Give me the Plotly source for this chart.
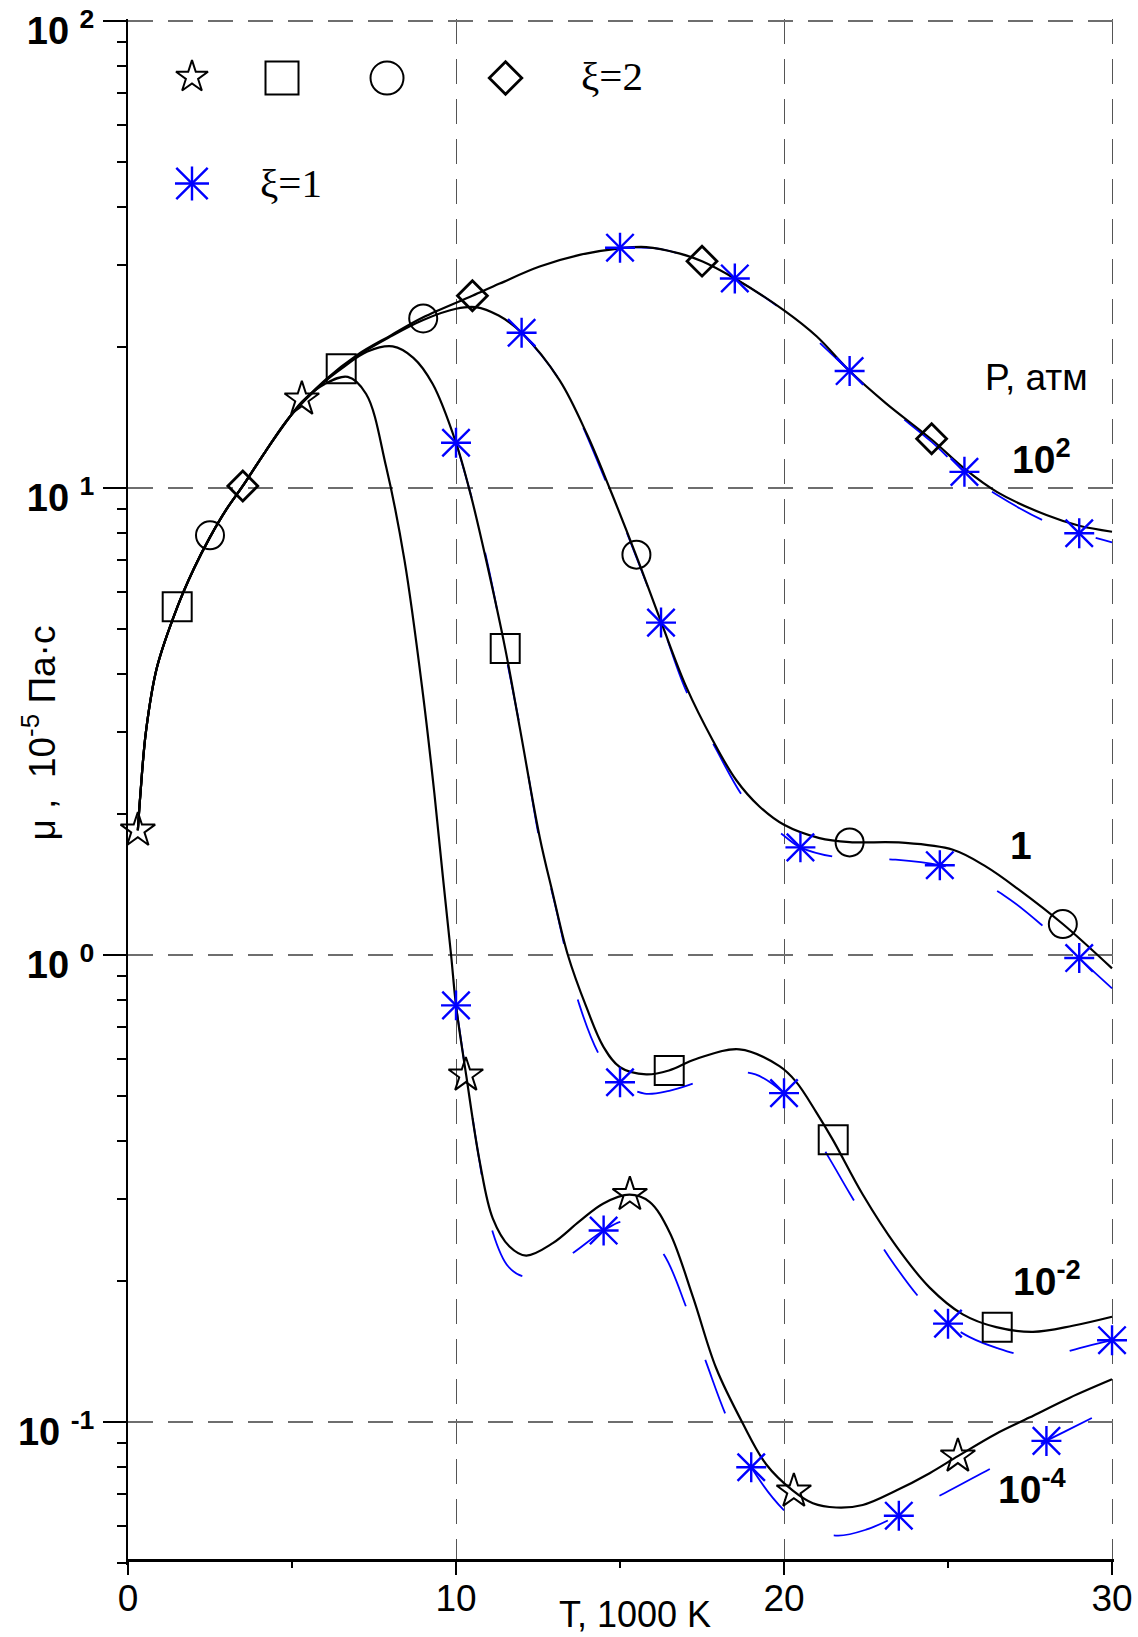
import plotly.graph_objects as go

# ---------------- data (T in 1000 K, mu in 1e-5 Pa*s) ----------------
# black solid curves, xi = 2
T_P100 = [0.3, 0.38, 0.55, 0.88, 1.5, 2.0, 2.5, 3.0, 3.5, 4.2, 5.0, 6.0, 7.0, 8.0, 9.0, 10.5, 11.33, 12.55,
          13.8, 15.0, 15.8, 16.8, 17.5, 18.5, 20.0, 21.0, 22.0, 23.1, 24.5, 25.5, 26.5, 28.0, 29.0, 30.0]
MU_P100 = [1.85, 2.22, 3.02, 4.12, 5.55, 6.7, 7.85, 9.0, 10.1, 12.0, 14.4, 17.0, 19.3, 21.2, 23.2, 25.8, 27.4, 29.8,
           31.6, 32.6, 32.8, 31.8, 30.6, 28.1, 24.0, 21.1, 17.8, 15.2, 12.7, 11.0, 9.8, 8.75, 8.3, 8.06]

T_P1 = [0.3, 0.38, 0.55, 0.88, 1.5, 2.0, 2.5, 3.0, 3.5, 4.2, 5.0, 6.0, 7.0, 8.0, 9.0, 10.0, 10.6, 11.3, 12.0,
        13.16, 14.0, 14.68, 15.5, 16.26, 17.02, 17.83, 18.54, 19.25, 20.0, 21.08, 22.0, 23.6, 25.15, 26.16,
        27.18, 28.5, 30.0]
MU_P1 = [1.85, 2.22, 3.02, 4.12, 5.55, 6.7, 7.85, 9.0, 10.1, 12.0, 14.4, 16.95, 19.2, 21.1, 22.9, 24.2, 24.4, 23.4,
         21.5, 17.0, 13.0, 10.0, 7.15, 5.15, 3.75, 2.88, 2.37, 2.08, 1.90, 1.78, 1.745, 1.74, 1.68, 1.546,
         1.377, 1.165, 0.936]

T_P1E2 = [0.3, 0.38, 0.55, 0.88, 1.5, 2.0, 2.5, 3.0, 3.5, 4.2, 5.0, 6.0, 6.5, 7.3, 8.07, 8.7, 9.29, 10.0, 10.46,
          10.92, 11.5, 11.94, 12.55, 12.95, 13.41, 13.97, 14.5, 15.0, 15.8, 16.49, 17.32, 18.64, 19.86, 20.37,
          20.98, 21.49, 22.4, 23.42, 24.44, 25.45, 26.47, 27.59, 28.8, 30.0]
MU_P1E2 = [1.85, 2.22, 3.02, 4.12, 5.55, 6.7, 7.85, 9.0, 10.1, 12.0, 14.4, 16.9, 18.0, 19.6, 20.1, 19.0, 16.7, 12.5,
           9.6, 7.0, 4.53, 3.08, 1.79, 1.355, 1.0, 0.775, 0.635, 0.575, 0.555, 0.566, 0.599, 0.628, 0.578, 0.535,
           0.461, 0.402, 0.307, 0.238, 0.194, 0.170, 0.1596, 0.156, 0.1607, 0.168]

T_P1E4 = [0.3, 0.38, 0.55, 0.88, 1.5, 2.0, 2.5, 3.0, 3.5, 4.2, 5.0, 5.3, 6.0, 6.7, 7.26, 7.87, 8.43, 8.99, 9.34,
          9.6, 9.85, 10.0, 10.31, 10.72, 11.12, 11.63, 12.14, 12.95, 13.76, 14.48, 15.29, 15.9, 16.51, 17.22,
          17.93, 18.74, 19.46, 20.27, 20.88, 21.59, 22.4, 23.42, 24.44, 25.3, 26.47, 27.48, 28.7, 30.0]
MU_P1E4 = [1.85, 2.22, 3.02, 4.12, 5.55, 6.7, 7.85, 9.0, 10.1, 12.0, 14.4, 15.3, 16.7, 17.3, 15.9, 11.1, 7.0, 3.63,
           2.22, 1.47, 1.0, 0.78, 0.553, 0.362, 0.273, 0.2376, 0.2272, 0.2415, 0.2688, 0.2934, 0.3067, 0.296,
           0.255, 0.1856, 0.1305, 0.0994, 0.0811, 0.0713, 0.067, 0.0656, 0.0664, 0.0713, 0.0777, 0.0845,
           0.0944, 0.1022, 0.1126, 0.1234]

# blue dashed curves, xi = 1
TB_P100 = [15.0, 16.2, 17.5, 18.5, 20.0, 22.0, 23.1, 24.5, 25.5, 26.5, 28.0, 29.0, 30.0]
MUB_P100 = [32.7, 32.5, 30.5, 28.1, 23.9, 17.8, 15.1, 12.55, 10.8, 9.66, 8.46, 8.0, 7.65]

TB_P1 = [12.0, 13.16, 14.68, 15.5, 16.26, 17.0, 17.94, 18.8, 19.5, 20.0, 20.5, 21.6, 23.4, 24.75, 25.15,
         26.72, 28.04, 29.0, 30.0]
MUB_P1 = [21.5, 17.0, 9.9, 7.1, 5.15, 3.7, 2.75, 2.16, 1.92, 1.80, 1.70, 1.62, 1.60, 1.557, 1.53,
          1.34, 1.13, 0.983, 0.848]

TB_P1E2 = [10.0, 10.5, 11.0, 11.5, 12.0, 12.55, 13.0, 13.77, 14.43, 15.0, 15.75, 16.5, 17.42, 18.3, 19.13, 20.0,
           20.45, 21.39, 22.0, 23.2, 24.28, 25.0, 25.66, 26.5, 27.33, 28.2, 29.01, 30.0]
MUB_P1E2 = [12.5, 9.4, 6.7, 4.45, 2.95, 1.76, 1.3, 0.779, 0.60, 0.534, 0.505, 0.512, 0.536, 0.56, 0.555, 0.506,
            0.468, 0.366, 0.309, 0.2257, 0.1795, 0.1624, 0.152, 0.144, 0.139, 0.139, 0.144, 0.1497]

TB_P1E4 = [10.0, 10.31, 10.72, 11.12, 11.6, 12.11, 12.8, 13.61, 14.5, 15.1, 15.6, 16.36, 17.02, 17.63, 18.24,
           19.0, 20.07, 20.8, 21.64, 22.5, 23.47, 24.89, 26.42, 27.99, 29.57, 30.0]
MUB_P1E4 = [0.78, 0.553, 0.36, 0.255, 0.215, 0.2046, 0.212, 0.2313, 0.257, 0.269, 0.262, 0.227, 0.176, 0.134,
            0.103, 0.08, 0.064, 0.059, 0.0571, 0.0588, 0.063, 0.0704, 0.0803, 0.0911, 0.1035, 0.107]

# point markers, xi = 2 (black open symbols)
STAR_T = [0.3, 5.3, 10.3, 15.3, 20.3, 25.3]
STAR_MU = [1.85, 15.5, 0.553, 0.307, 0.0711, 0.0845]
SQUARE_T = [1.5, 6.5, 11.5, 16.5, 21.5, 26.5]
SQUARE_MU = [5.57, 18.0, 4.53, 0.566, 0.402, 0.1596]
CIRCLE_T = [2.5, 9.0, 15.5, 22.0, 28.5]
CIRCLE_MU = [7.92, 23.07, 7.2, 1.742, 1.165]
DIAMOND_T = [3.5, 10.5, 17.5, 24.5]
DIAMOND_MU = [10.1, 25.8, 30.6, 12.75]

# point markers, xi = 1 (blue asterisks)
AST_T = [15.0, 18.5, 22.0, 25.5, 29.0,
         12.0, 16.25, 20.5, 24.75, 29.0,
         10.0, 15.0, 20.0, 25.0, 30.0,
         10.0, 14.5, 19.0, 23.5, 28.0]
AST_MU = [32.7, 28.1, 17.8, 10.83, 8.0,
          21.5, 5.15, 1.70, 1.557, 0.985,
          12.5, 0.534, 0.506, 0.1624, 0.1497,
          0.78, 0.257, 0.08, 0.063, 0.0911]

X_TICKS = [0, 10, 20, 30]
X_MINOR = [5, 15, 25]
Y_TICKS = [0.1, 1, 10, 100]
Y_TICKTEXT = ["<b>10\u00a0<sup>-1</sup></b>", "<b>10\u00a0<sup>0</sup></b>",
              "<b>10\u00a0<sup>1</sup></b>", "<b>10\u00a0<sup>2</sup></b>"]
Y_MINOR = [0.05, 0.06, 0.07, 0.08, 0.09, 0.2, 0.3, 0.4, 0.5, 0.6, 0.7, 0.8, 0.9,
           2, 3, 4, 5, 6, 7, 8, 9, 20, 30, 40, 50, 60, 70, 80, 90]

CURVE_LABELS = ["<b>10<sup>2</sup></b>", "<b>1</b>", "<b>10<sup>-2</sup></b>", "<b>10<sup>-4</sup></b>"]

# ---------------- styling / layout ----------------
SANS = "Arial, 'Liberation Sans', sans-serif"
SERIF = "'Times New Roman', 'Liberation Serif', serif"
BLUE = "#0000ff"
W, H = 1138, 1637
ML, MR, MT, MB = 128, 24, 19, 72
Y_BOTTOM_LOG = -1.3062
Y_TOP_LOG = 2.00428
X_AXIS_POS = 0.0035

fig = go.Figure()

for tx, my in [(TB_P100, MUB_P100), (TB_P1, MUB_P1), (TB_P1E2, MUB_P1E2), (TB_P1E4, MUB_P1E4)]:
    fig.add_trace(go.Scatter(x=tx, y=my, mode="lines",
                             line=dict(color=BLUE, width=1.8, dash="57px,57px", shape="spline", smoothing=1.0),
                             hoverinfo="skip", showlegend=False))

for tx, my in [(T_P100, MU_P100), (T_P1, MU_P1), (T_P1E2, MU_P1E2), (T_P1E4, MU_P1E4)]:
    fig.add_trace(go.Scatter(x=tx, y=my, mode="lines",
                             line=dict(color="black", width=2.2, shape="spline", smoothing=1.0),
                             hoverinfo="skip", showlegend=False))


def black_markers(tx, my, symbol, size, lw, xaxis="x", yaxis="y"):
    fig.add_trace(go.Scatter(x=tx, y=my, mode="markers", xaxis=xaxis, yaxis=yaxis,
                             marker=dict(symbol=symbol, size=size, color="black", line=dict(width=lw, color="black")),
                             cliponaxis=False, hoverinfo="skip", showlegend=False))


def blue_asterisks(tx, my, size_cross, size_x, xaxis="x", yaxis="y"):
    for sym, sz in [("cross-thin-open", size_cross), ("x-thin-open", size_x)]:
        fig.add_trace(go.Scatter(x=tx, y=my, mode="markers", xaxis=xaxis, yaxis=yaxis,
                                 marker=dict(symbol=sym, size=sz, color=BLUE, line=dict(width=2.4, color=BLUE)),
                                 cliponaxis=False, hoverinfo="skip", showlegend=False))


blue_asterisks(AST_T, AST_MU, 21.4, 27.4)
black_markers(STAR_T, STAR_MU, "star-open", 26, 2)
black_markers(SQUARE_T, SQUARE_MU, "square-open", 29, 2)
black_markers(CIRCLE_T, CIRCLE_MU, "circle-open", 28, 2)
black_markers(DIAMOND_T, DIAMOND_MU, "diamond-open", 23, 2.8)

# key (legend) in paper-like overlay axes
KEY = dict(star=(0.0649, 0.9625), square=(0.1562, 0.9618), circle=(0.2627, 0.9618),
           diamond=(0.3829, 0.9618), asterisk=(0.0649, 0.8936))
black_markers([KEY["star"][0]], [KEY["star"][1]], "star-open", 24, 2, "x2", "y2")
black_markers([KEY["square"][0]], [KEY["square"][1]], "square-open", 33, 2, "x2", "y2")
black_markers([KEY["circle"][0]], [KEY["circle"][1]], "circle-open", 33, 2, "x2", "y2")
black_markers([KEY["diamond"][0]], [KEY["diamond"][1]], "diamond-open", 25, 2.8, "x2", "y2")
blue_asterisks([KEY["asterisk"][0]], [KEY["asterisk"][1]], 24.3, 31.4, "x2", "y2")

annotations = [
    dict(text="\u03be=2", x=0.4905, y=0.9631, font=dict(family=SERIF, size=41, color="black")),
    dict(text="\u03be=1", x=0.1650, y=0.8939, font=dict(family=SERIF, size=41, color="black")),
    dict(text="P, атм", x=0.9215, y=0.7678, font=dict(family=SANS, size=37, color="black")),
    dict(text=CURVE_LABELS[0], x=0.8945, y=0.7173, xanchor="left", font=dict(family=SANS, size=39, color="black")),
    dict(text=CURVE_LABELS[1], x=0.9057, y=0.4657, font=dict(family=SANS, size=39, color="black")),
    dict(text=CURVE_LABELS[2], x=0.8960, y=0.1856, xanchor="left", font=dict(family=SANS, size=39, color="black")),
    dict(text=CURVE_LABELS[3], x=0.8805, y=0.0505, xanchor="left", font=dict(family=SANS, size=39, color="black")),
    dict(text="\u03bc ,\u00a0\u00a010<sup>-5</sup> Па·с", x=-0.0900, y=0.5380, textangle=-90,
         font=dict(family=SANS, size=37, color="black")),
    dict(text="T, 1000 K", x=0.5140, y=-0.0318, font=dict(family=SANS, size=36, color="black")),
]
for a in annotations:
    a.setdefault("xanchor", "center")
    a.setdefault("yanchor", "middle")
    a.update(xref="paper", yref="paper", showarrow=False)

fig.update_layout(
    width=W, height=H, margin=dict(l=ML, r=MR, t=MT, b=MB, pad=0, autoexpand=False),
    paper_bgcolor="white", plot_bgcolor="white", showlegend=False,
    annotations=annotations,
    xaxis=dict(range=[0, 30.06], tickvals=X_TICKS, ticks="outside", ticklen=14, tickwidth=2, tickcolor="black",
               showline=True, linecolor="black", linewidth=2.5, anchor="free", position=X_AXIS_POS,
               showgrid=True, gridcolor="#555555", gridwidth=1.4, griddash="25px,15px", zeroline=False,
               tickfont=dict(family=SANS, size=37, color="black"), ticklabelstandoff=-9,
               ticklabeloverflow="allow", automargin=False,
               minor=dict(tickvals=X_MINOR, ticks="outside", ticklen=7, tickwidth=2, tickcolor="black",
                          showgrid=False)),
    yaxis=dict(type="log", range=[Y_BOTTOM_LOG, Y_TOP_LOG], tickvals=Y_TICKS, ticktext=Y_TICKTEXT,
               ticks="outside", ticklen=23, tickwidth=2, tickcolor="black",
               showline=True, linecolor="black", linewidth=2, showgrid=True, gridcolor="#6e6e6e",
               gridwidth=1.8, griddash="25px,15px", zeroline=False,
               tickfont=dict(family=SANS, size=38, color="black"), ticklabelstandoff=1, ticklabelshift=10,
               ticklabeloverflow="allow", automargin=False,
               minor=dict(tickvals=Y_MINOR, ticks="outside", ticklen=9, tickwidth=2, tickcolor="black",
                          showgrid=False)),
    xaxis2=dict(overlaying="x", range=[0, 1], visible=False),
    yaxis2=dict(overlaying="y", range=[0, 1], visible=False),
)

fig.write_html("out.html")
